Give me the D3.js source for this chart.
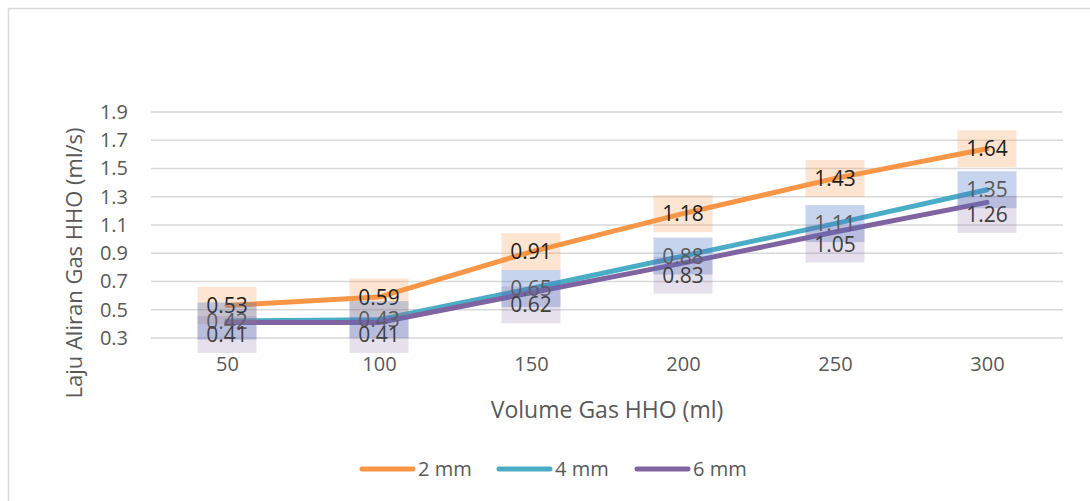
<!DOCTYPE html>
<html><head><meta charset="utf-8">
<script src="https://cdn.jsdelivr.net/npm/d3@7"></script>
<style>body{margin:0;background:#fff}svg{display:block;font-family:"Open Sans",sans-serif}</style>
</head><body>
<script>
const categories = ["50","100","150","200","250","300"];
const seriesNames = ["2 mm","4 mm","6 mm"];
const s2mm = [0.53,0.59,0.91,1.18,1.43,1.64];
const s4mm = [0.42,0.43,0.65,0.88,1.11,1.35];
const s6mm = [0.41,0.41,0.62,0.83,1.05,1.26];
const yTicks = [0.3,0.5,0.7,0.9,1.1,1.3,1.5,1.7,1.9];

const W=1090,H=501;
const colors=["#F79646","#4BACC6","#8064A2"];
const boxFill=["rgba(247,150,70,0.25)","rgba(68,114,196,0.3)","rgba(128,100,162,0.2)"];
const textFill=["#1f1f1f","#595959","#404040"];
const labelDy=[0,0,12];
const series=[s2mm,s4mm,s6mm];

const svg=d3.select("body").append("svg").attr("width",W).attr("height",H);
svg.append("path").attr("d",`M8.5,${H} V8.5 H${W}`).attr("fill","none").attr("stroke","#d9d9d9").attr("stroke-width",1.5);

const x=d3.scalePoint().domain(categories).range([227,987]);
const y=d3.scaleLinear().domain([0.3,1.9]).range([338,112]);

svg.append("g").selectAll("line").data(yTicks).join("line")
 .attr("x1",151).attr("x2",1063).attr("y1",d=>y(d)).attr("y2",d=>y(d))
 .attr("stroke","#d9d9d9").attr("stroke-width",1.5);

const yAxis=svg.append("g").attr("transform","translate(151,0)")
 .call(d3.axisLeft(y).tickValues(yTicks).tickFormat(d3.format(".1f")).tickSize(0).tickPadding(23));
yAxis.select(".domain").remove();
yAxis.selectAll("text").attr("font-size",20).attr("fill","#595959").attr("font-family","'Open Sans',sans-serif");

const xAxis=svg.append("g").attr("transform","translate(0,338)")
 .call(d3.axisBottom(x).tickSize(0).tickPadding(19));
xAxis.select(".domain").remove();
xAxis.selectAll("text").attr("font-size",20).attr("fill","#595959").attr("font-family","'Open Sans',sans-serif");

const line=d3.line().x((d,i)=>x(categories[i])).y(d=>y(d));
series.forEach((s,k)=>{
 svg.append("path").datum(s).attr("d",line).attr("fill","none").attr("stroke",colors[k])
  .attr("stroke-width",5).attr("stroke-linejoin","round").attr("stroke-linecap","round");
});

series.forEach((s,k)=>{
 const g=svg.append("g");
 s.forEach((v,i)=>{
  const cx=x(categories[i]), cy=y(v)+labelDy[k];
  g.append("rect").attr("x",cx-29.5).attr("y",cy-18.5).attr("width",59).attr("height",37).attr("fill",boxFill[k]);
  g.append("text").attr("x",cx).attr("y",cy).attr("dy","0.36em").attr("text-anchor","middle")
   .attr("font-size",21).attr("fill",textFill[k]).text(v.toFixed(2));
 });
});

svg.append("text").attr("x",607).attr("y",418).attr("text-anchor","middle").attr("font-size",23).attr("fill","#595959").text("Volume Gas HHO (ml)");
svg.append("text").attr("transform","translate(82,263) rotate(-90)").attr("text-anchor","middle").attr("font-size",22).attr("fill","#595959").text("Laju Aliran Gas HHO (ml/s)");

const legX=[360,497,635];
seriesNames.forEach((n,k)=>{
 svg.append("line").attr("x1",legX[k]+2).attr("x2",legX[k]+53).attr("y1",469).attr("y2",469)
  .attr("stroke",colors[k]).attr("stroke-width",5).attr("stroke-linecap","round");
 svg.append("text").attr("x",legX[k]+58).attr("y",469).attr("dy","0.36em").attr("font-size",20).attr("fill","#595959").text(n);
});
</script>
</body></html>
